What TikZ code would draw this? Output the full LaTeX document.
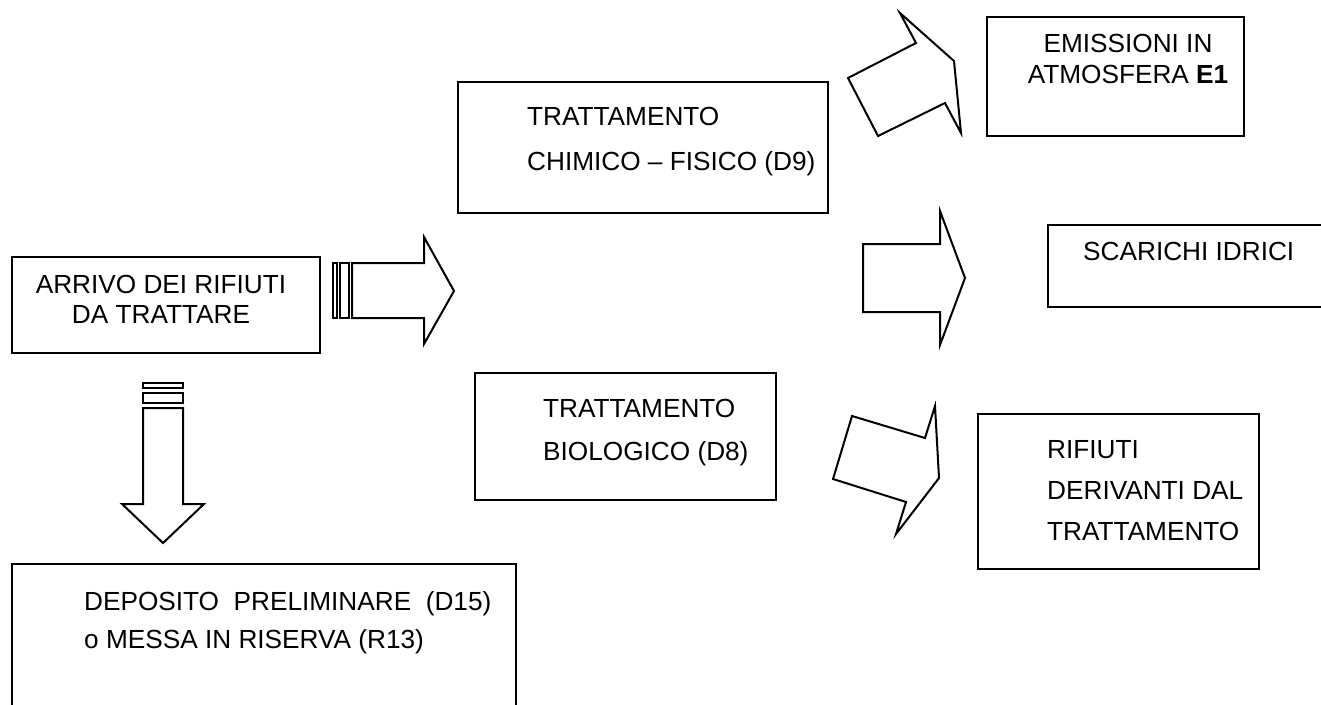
\documentclass[tikz,border=0pt]{standalone}
\usepackage{fontspec}
\setmainfont{Liberation Sans}
\usetikzlibrary{positioning}
\newcommand{\txtsize}[1]{\fontsize{26.2pt}{#1pt}\selectfont}
\tikzstyle{box} = [rectangle, anchor=north west, inner sep=0pt, draw=black, line width=2pt]
\tikzstyle{txt} = [inner sep=0pt, align=left, anchor=base west]
\tikzstyle{blockarrow} = [draw=black, fill=white, line width=2pt, line join=miter]

\begin{document}
\begin{tikzpicture}[x=1pt, y=-1pt]
    \useasboundingbox (0,0) rectangle (1321,704);
    \clip (0,0) rectangle (1321,704);

    % boxes
    \node (arrivo) [box, minimum width=308pt, minimum height=96pt] at (11,256) {};
    \node (chimico) [box, minimum width=370pt, minimum height=131pt] at (457,81) {};
    \node (biologico) [box, minimum width=301pt, minimum height=127pt] at (474,372) {};
    \node (emissioni) [box, minimum width=257pt, minimum height=119pt] at (986,16) {};
    \node (scarichi) [box, minimum width=300pt, minimum height=82pt] at (1047,224) {};
    \node (rifiuti) [box, minimum width=281pt, minimum height=155pt] at (977,413) {};
    \node (deposito) [box, minimum width=504pt, minimum height=160pt] at (11,563) {};

    % texts (anchored on the baseline of the last line)
    \node (arrivotxt) [txt, align=center, anchor=base, font=\txtsize{30}] at (161,323) {ARRIVO DEI RIFIUTI\\DA TRATTARE};
    \node (chimicotxt) [txt, font=\txtsize{45}] at (527,170) {TRATTAMENTO\\CHIMICO -- FISICO (D9)};
    \node (biologicotxt) [txt, font=\txtsize{43}] at (543,460) {TRATTAMENTO\\BIOLOGICO (D8)};
    \node (emissionitxt) [txt, align=center, anchor=base, font=\txtsize{31}] at (1128,83) {EMISSIONI IN\\ATMOSFERA \textbf{E1}};
    \node (scarichitxt) [txt, font=\txtsize{30}] at (1083,260) {SCARICHI IDRICI};
    \node (rifiutitxt) [txt, font=\txtsize{41}] at (1047,540) {RIFIUTI\\DERIVANTI DAL\\TRATTAMENTO};
    \node (depositotxt) [txt, font=\txtsize{38}] at (84,648) {DEPOSITO\ \ PRELIMINARE\ \ (D15)\\o MESSA IN RISERVA (R13)};

    % block arrows
    \draw[blockarrow] (333,263) rectangle (337,318);
    \draw[blockarrow] (340,263) rectangle (349,318);
    \draw[blockarrow] (352,263) -- (424,263) -- (424,237) -- (454,291) -- (424,344) -- (424,318) -- (352,318) -- cycle;

    \draw[blockarrow] (143,383) rectangle (183,388);
    \draw[blockarrow] (143,393) rectangle (183,403);
    \draw[blockarrow] (143,408) -- (183,408) -- (183,504) -- (204,504) -- (163,543) -- (122,504) -- (143,504) -- cycle;

    \draw[blockarrow] (900,13) -- (954,61) -- (961,133) -- (945,103) -- (878,136) -- (848,78) -- (916,43) -- cycle;
    \draw[blockarrow] (863,244) -- (940,244) -- (940,211) -- (965,278) -- (940,345) -- (940,312) -- (863,312) -- cycle;
    \draw[blockarrow] (852,416) -- (925,438) -- (935,406) -- (939,478) -- (896,534) -- (906,502) -- (833,479) -- cycle;
\end{tikzpicture}
\end{document}
